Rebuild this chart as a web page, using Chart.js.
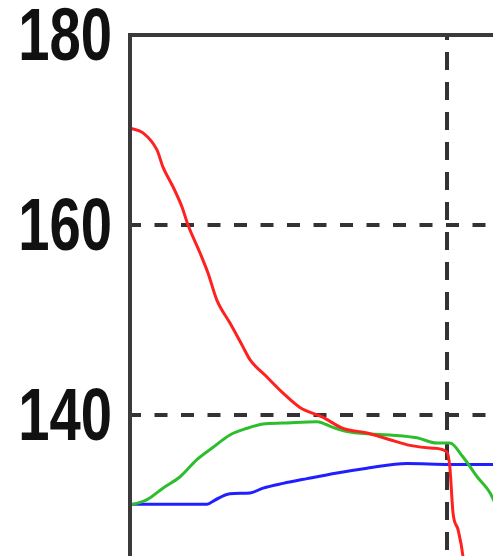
<!DOCTYPE html>
<html>
<head>
<meta charset="utf-8">
<script src="https://cdn.jsdelivr.net/npm/chart.js@4.4.1/dist/chart.umd.min.js"></script>
<style>
  html, body { margin: 0; padding: 0; background: #fff; overflow: hidden; }
  #wrap { width: 493px; height: 556px; overflow: hidden; position: relative; }
  canvas { position: absolute; left: 0; top: 0; }
</style>
</head>
<body>
<div id="wrap"><canvas id="chart" width="764" height="795"></canvas></div>
<script>
// valeurs (x, y)
var redX = [0, 0.41, 0.85, 1.04, 1.36, 1.64, 1.83, 2.21, 2.46, 2.74, 3.15, 3.56, 3.79, 4.32, 4.83, 5.36, 6.06, 6.72, 7.48, 8.2, 8.83, 9.56, 10.0, 10.09, 10.19, 10.35, 10.5, 10.7];
var redY = [170.2, 169.7, 167.9, 166.1, 164.0, 161.9, 160.0, 157.05, 154.95, 152.1, 149.7, 147.2, 145.8, 144.0, 142.3, 140.8, 139.8, 138.6, 138.1, 137.4, 136.8, 136.5, 136.1, 134.5, 129.7, 127.9, 125.2, 118];

var greenX = [0, 0.54, 1.04, 1.58, 2.11, 2.62, 3.15, 3.69, 4.2, 4.83, 5.9, 6.4, 6.94, 8.2, 9.05, 9.68, 10.09, 10.5, 10.95, 11.36, 11.67, 12.2];
var greenY = [130.5, 131.1, 132.3, 133.5, 135.3, 136.6, 137.9, 138.6, 139.05, 139.15, 139.3, 138.7, 138.2, 137.9, 137.6, 137.05, 137.05, 135.6, 133.5, 131.8, 129.5, 125];

var blueX = [0, 2.43, 2.68, 3.15, 3.79, 4.2, 4.83, 5.58, 6.53, 7.48, 8.74, 10.09, 11.45, 12.5];
var blueY = [130.6, 130.6, 131.05, 131.7, 131.8, 132.3, 132.8, 133.3, 133.9, 134.4, 134.9, 134.8, 134.8, 134.8];

var yTicks = [180, 160, 140, 120, 100];

function pts(xs, ys) {
    return xs.map(function (x, i) { return {x: x, y: ys[i]}; });
}

// cadre de la zone de tracé
var framePlugin = {
    id: 'frame',
    afterDraw: function (chart) {
        var a = chart.chartArea, ctx = chart.ctx;
        ctx.save();
        ctx.strokeStyle = '#3a3a3a';
        ctx.lineWidth = 4;
        ctx.strokeRect(a.left, a.top, a.right - a.left, a.bottom - a.top);
        ctx.restore();
    }
};

// étiquettes de l'axe Y : police haute et étroite (écrasée horizontalement)
var yLabelPlugin = {
    id: 'yLabels',
    afterDraw: function (chart) {
        var ctx = chart.ctx, axis = chart.scales.y, sx = 0.76;
        ctx.save();
        ctx.font = 'bold 74px "Liberation Sans", Arial, sans-serif';
        ctx.fillStyle = '#111';
        ctx.textAlign = 'right';
        ctx.textBaseline = 'alphabetic';
        axis.ticks.forEach(function (t) {
            var py = axis.getPixelForValue(t.value);
            ctx.save();
            ctx.translate(112, py + 25);
            ctx.scale(sx, 1);
            ctx.fillText(String(t.value), 0, 0);
            ctx.restore();
        });
        ctx.restore();
    }
};

new Chart(document.getElementById('chart'), {
    type: 'line',
    data: {
        datasets: [
            {data: pts(redX, redY), borderColor: '#ff2020', borderWidth: 3},
            {data: pts(greenX, greenY), borderColor: '#2ebd2e', borderWidth: 3},
            {data: pts(blueX, blueY), borderColor: '#2020ff', borderWidth: 3}
        ]
    },
    options: {
        responsive: false,
        animation: false,
        devicePixelRatio: 1,
        layout: {padding: {left: 0, top: 35, right: 0, bottom: 0}},
        elements: {
            point: {radius: 0},
            line: {cubicInterpolationMode: 'monotone'}
        },
        plugins: {
            legend: {display: false},
            tooltip: {enabled: false}
        },
        scales: {
            x: {
                type: 'linear',
                min: 0,
                max: 20,
                ticks: {display: false, stepSize: 10},
                grid: {color: '#333', lineWidth: 4, drawTicks: false},
                border: {display: false, dash: [18, 12], dashOffset: 13}
            },
            y: {
                min: 100,
                max: 180,
                afterBuildTicks: function (axis) {
                    axis.ticks = yTicks.map(function (v) { return {value: v}; });
                },
                afterFit: function (axis) {
                    axis.width = 130;
                },
                ticks: {display: false},
                grid: {color: '#333', lineWidth: 4, drawTicks: false},
                border: {display: true, color: '#3a3a3a', width: 4, dash: [13, 13.5], dashOffset: 4}
            }
        }
    },
    plugins: [framePlugin, yLabelPlugin]
});
</script>
</body>
</html>
